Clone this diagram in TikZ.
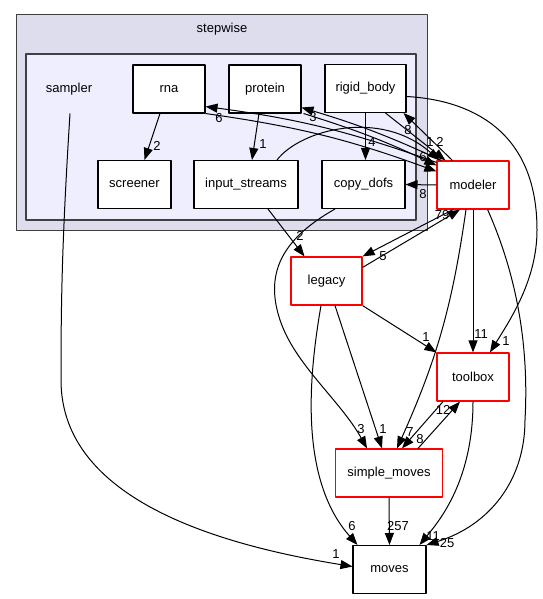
\documentclass[tikz,border=0pt]{standalone}
\usepackage{fontspec}
\setmainfont{Liberation Sans}
\usetikzlibrary{positioning, arrows.meta, calc}
\definecolor{outerfill}{HTML}{DDDDEE}
\definecolor{innerfill}{HTML}{EEEEFF}
\definecolor{framegray}{HTML}{404040}
\definecolor{extred}{HTML}{FF0000}

\begin{document}
\begin{tikzpicture}[
  x=1pt, y=-1pt,
  line width=1pt, line join=round,
  >={Triangle[length=12pt, width=9pt]},
  dir/.style = {draw=black, fill=white, line width=1.05pt, minimum height=48pt,
                inner sep=2pt, font=\fontsize{13}{15}\selectfont},
  ext/.style = {dir, draw=extred, line width=1.2pt},
  dep/.style = {->, black},
  num/.style = {font=\fontsize{13}{15}\selectfont, inner sep=0pt}
]
\useasboundingbox (0,0) rectangle (542,599);

% stepwise cluster
\filldraw[fill=outerfill, draw=framegray] (16,15) rectangle (427,230);
\filldraw[fill=innerfill, draw=framegray, line width=1.5pt] (26,54) rectangle (416,220);
\node[num] (stepwise) at (222,29) {stepwise};

\node[num, minimum height=48pt] (sampler) at (69,89) {sampler};
\node[dir, minimum width=72pt] (rna) at (169,89) {rna};
\node[dir, minimum width=72pt] (protein) at (265,89) {protein};
\node[dir, minimum width=81pt] (rigidbody) at (365.5,88.5) {rigid\_body};
\node[dir, minimum width=73pt] (screener) at (134.5,184.5) {screener};
\node[dir, minimum width=104pt] (instreams) at (246,184.5) {input\_streams};
\node[dir, minimum width=83pt] (copydofs) at (363.5,184.5) {copy\_dofs};

% other directories
\node[ext, minimum width=72pt] (modeler) at (473,185) {modeler};
\node[ext, minimum width=71pt] (legacy) at (326.5,281) {legacy};
\node[ext, minimum width=72pt] (toolbox) at (473,377) {toolbox};
\node[ext, minimum width=107pt] (simplemoves) at (389,473) {simple\_moves};
\node[dir, minimum width=73pt] (moves) at (389.5,569.5) {moves};

% inside stepwise
\draw[dep] ([xshift=-9pt]rna.south) -- ([xshift=10pt]screener.north);
\draw[dep] ([xshift=-6pt]protein.south) -- ([xshift=6pt]instreams.north);
\draw[dep] (rigidbody.south) -- ([xshift=2pt]copydofs.north);

% to and from modeler
\draw[dep] ([yshift=-2pt]modeler.north west) to[bend right=6] ([yshift=7pt]rna.south east);
\draw[dep] (rna.south east) to[bend left=6] ([yshift=-11pt]modeler.north west);
\draw[dep] ([xshift=5pt]modeler.north west) to[bend right=4] ([yshift=6pt]protein.south east);
\draw[dep] ([xshift=2pt]protein.south east) to[bend left=4] ([yshift=-5pt]modeler.north west);
\draw[dep] ([xshift=31pt]instreams.north) .. controls (300,130) and (380,108) .. ([xshift=3pt]modeler.north west);
\draw[dep] ([xshift=20pt]rigidbody.south) -- ([xshift=9pt]modeler.north west);
\draw[dep] ([xshift=16pt]modeler.north west) -- ([xshift=-3pt]rigidbody.south east);
\draw[dep] (modeler.west) -- (copydofs.east);
\draw[dep] ([xshift=-20pt]modeler.south) -- (legacy.north east);
\draw[dep] ([yshift=-11pt]legacy.north east) -- ([xshift=-13pt]modeler.south);
\draw[dep] (modeler.south) -- (toolbox.north);
\draw[dep] ([xshift=-7pt]modeler.south) to[bend left=8] ([xshift=8pt]simplemoves.north);
\draw[dep] ([xshift=-22pt]modeler.south east) .. controls (510,260) and (530,330) .. (525,420)
  .. controls (525,480) and (490,525) .. (moves.north east);

% rigid_body -> toolbox
\draw[dep] ([yshift=-8pt]rigidbody.east) .. controls (470,100) and (537,130) .. (537,230)
  .. controls (537,280) and (510,320) .. ([xshift=17pt]toolbox.north);

% legacy
\draw[dep] ([xshift=22pt]instreams.south) -- ([xshift=-22pt]legacy.north);
\draw[dep] (legacy.south east) -- (toolbox.north west);
\draw[dep] ([xshift=8.5pt]legacy.south) -- ([xshift=-7pt]simplemoves.north);
\draw[dep] ([xshift=-5.5pt]legacy.south) .. controls (308,380) and (300,480) .. ([xshift=-32pt]moves.north);

% copy_dofs -> simple_moves
\draw[dep] ([xshift=-28.5pt]copydofs.south) .. controls (280,240) and (265,275) .. (280,320)
  .. controls (295,365) and (340,400) .. ([xshift=-22pt]simplemoves.north);

% toolbox, simple_moves, moves
\draw[dep] ([xshift=29pt]simplemoves.north) -- ([xshift=-13pt]toolbox.south);
\draw[dep] ([xshift=-30pt]toolbox.south) -- ([xshift=13pt]simplemoves.north);
\draw[dep] (toolbox.south) .. controls (473,480) and (440,520) .. ([xshift=-7pt]moves.north east);
\draw[dep] (simplemoves.south) -- (moves.north);

% sampler -> moves
\draw[dep] ([xshift=1pt]sampler.south) .. controls (62,240) and (61,300) .. (61,380)
  .. controls (61,500) and (220,545) .. ([yshift=3pt]moves.west);

% counts
\node[num] (n-rna-scr) at (157,146) {2};
\node[num] (n-pro-ins) at (263,144) {1};
\node[num] (n-rig-cop) at (372,142) {4};
\node[num] (n-mod-rna) at (219,118) {6};
\node[num] (n-mod-pro) at (313,117) {3};
\node[num] (n-mod-rig) at (408,130) {8};
\node[num] (n-ins-mod) at (430,142) {1};
\node[num] (n-rig-mod) at (440,142) {2};
\node[num] (n-rna-mod) at (423,157) {6};
\node[num] (n-mod-cop) at (423,194) {8};
\node[num] (n-leg-mod) at (442,215) {79};
\node[num] (n-mod-leg) at (383,256) {5};
\node[num] (n-ins-leg) at (300,236) {2};
\node[num] (n-mod-too) at (481,334) {11};
\node[num] (n-rig-too) at (506,341) {1};
\node[num] (n-leg-too) at (426,337) {1};
\node[num] (n-cop-sim) at (361,429) {3};
\node[num] (n-leg-sim) at (383,429) {1};
\node[num] (n-mod-sim) at (410,432) {7};
\node[num] (n-too-sim) at (420,439) {8};
\node[num] (n-sim-too) at (443,410) {12};
\node[num] (n-leg-mov) at (352,526) {6};
\node[num] (n-sim-mov) at (398,526) {257};
\node[num] (n-too-mov) at (433,536) {11};
\node[num] (n-mod-mov) at (447,543) {25};
\node[num] (n-sam-mov) at (336,554) {1};

\end{tikzpicture}
\end{document}
